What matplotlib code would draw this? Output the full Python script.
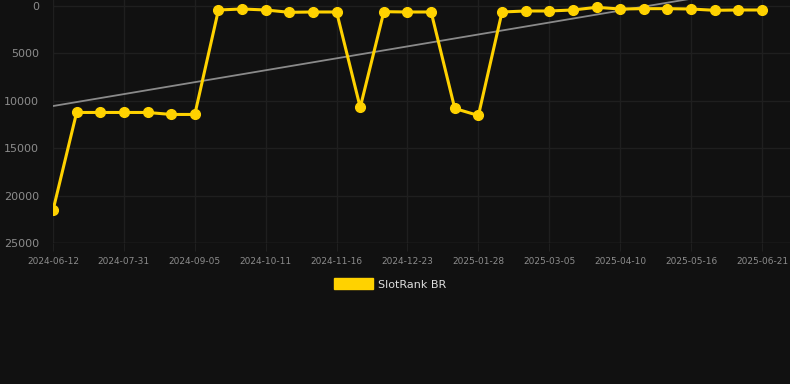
import numpy as np
import matplotlib
matplotlib.use("Agg")
import matplotlib.pyplot as plt
from matplotlib.patches import Patch

# rank values, one point per snapshot (lower = better)
ranks = [21550, 11230, 11230, 11230, 11230, 11440, 11440,
         420, 316, 420, 665, 632, 632, 10700, 600, 632, 632,
         10810, 11550, 632, 527, 527, 420, 140, 316, 280, 280,
         316, 455, 420, 420]
tick_labels = ["2024-06-12", "2024-07-31", "2024-09-05", "2024-10-11",
               "2024-11-16", "2024-12-23", "2025-01-28", "2025-03-05",
               "2025-04-10", "2025-05-16", "2025-06-21"]
y_ticks = [0, 5000, 10000, 15000, 20000, 25000]
series_name = "SlotRank BR"

bg = "#111111"
yellow = "#FFD200"

x = np.arange(len(ranks))
slope, icpt = np.polyfit(x, ranks, 1)
trend = slope * x + icpt

fig = plt.figure(figsize=(7.9, 3.84), dpi=100, facecolor=bg)
ax = fig.add_axes([53/790, 141/384, 737/790, 243/384], facecolor=bg)

ax.plot(x, trend, color="#8a8a8a", lw=1.3, zorder=2)
ax.plot(x, ranks, color=yellow, lw=2.2, marker="o", ms=7, zorder=3)

ax.set_xlim(0, 30 + 28/23.63)
ax.set_ylim(25000, -633)
ax.set_xticks(x[::3])
ax.set_xticklabels(tick_labels)
ax.set_yticks(y_ticks)
ax.set_yticklabels([str(v) for v in y_ticks])

ax.grid(True, color="#1f1f1f", lw=1)
ax.set_axisbelow(True)
for s in ax.spines.values():
    s.set_visible(False)
ax.axhline(25000, color="#2a2a2a", lw=1, zorder=1)
ax.tick_params(axis="x", colors="#1f1f1f", labelcolor="#8c8c8c", labelsize=6.5, length=6, pad=4)
ax.tick_params(axis="y", length=0, labelcolor="#8c8c8c", labelsize=8, pad=10)

fig.legend(handles=[Patch(facecolor=yellow, edgecolor=yellow)], labels=[series_name],
           loc="center", bbox_to_anchor=(390/790, 1 - 284/384), frameon=False,
           handlelength=3.5, handleheight=1.1, handletextpad=0.5,
           fontsize=8, labelcolor="#dddddd")

fig.savefig("out.png", dpi=100, facecolor=bg)
